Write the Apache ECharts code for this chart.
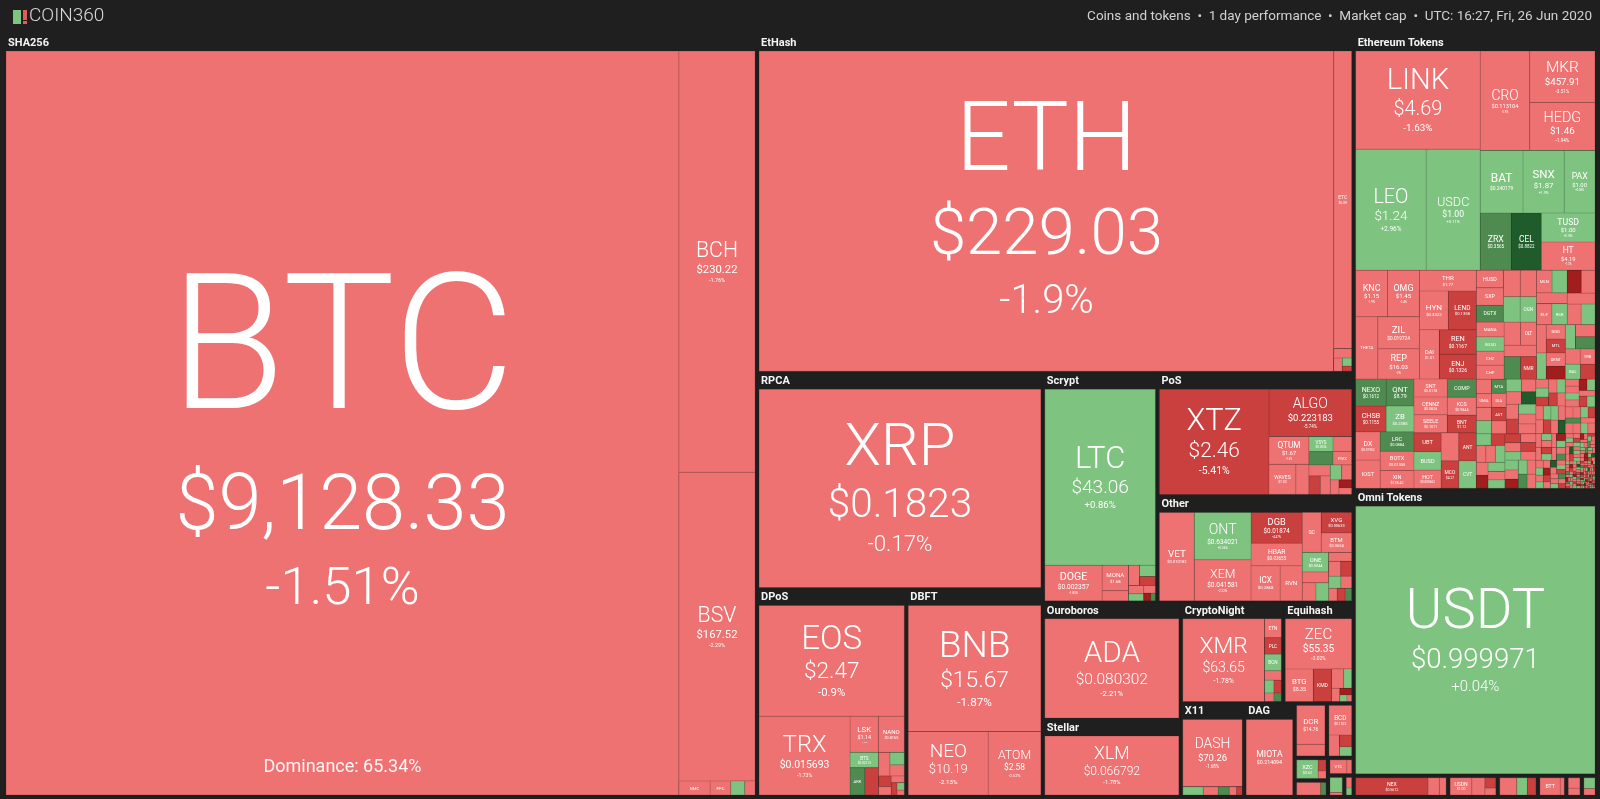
<!DOCTYPE html>
<html><head><meta charset="utf-8">
<script src="https://cdn.jsdelivr.net/npm/echarts@6/dist/echarts.min.js"></script>
<style>html,body{margin:0;padding:0;background:#1e1f1e;overflow:hidden}#c{width:1600px;height:799px}</style>
</head><body><div id="c"></div><script>
// ---------------- DATA (relative market-cap weights read from tile areas) ----------------
const headerText = 'Coins and tokens  \u2022  1 day performance  \u2022  Market cap  \u2022  UTC: 16:27, Fri, 26 Jun 2020';
const btcDominance = 'Dominance: 65.34%';

const sha256Names = ['BTC','BCH','BSV','NMC','PPC','ELA','SYS'];
const sha256Caps = [513.5,32.9,24.1,0.45,0.3,0.2,0.15];
const sha256Prices = ['$9,128.33','$230.22','$167.52','$0.4321','$0.2655','$1.26','$0.0494'];
const sha256Changes = [-1.51,-1.76,-2.29,-1.4,-2.3,1.1,-3.1];

const ethashNames = ['ETH','ETC','ETP','UBQ','EXP','ELLA'];
const ethashCaps = [194.9,5.65,0.18,0.12,0.08,0.05];
const ethashPrices = ['$229.03','$6.09','$0.2133','$0.1322','$0.0361','$0.0019'];
const ethashChanges = [-1.9,-1.5,-1.9,-3.0,2.2,-5.0];

const rpcaNames = ['XRP']; const rpcaCaps = [61.6]; const rpcaPrices = ['$0.1823']; const rpcaChanges = [-0.17];

const scryptNames = ['LTC','DOGE','MONA','EMC2','VIA','GAME','DGC','FTC','XMY','NLG','SXC','LCC'];
const scryptCaps = [21.8,2.28,0.75,0.3,0.25,0.2,0.16,0.14,0.12,0.1,0.06,0.04];
const scryptPrices = ['$43.06','$0.002357','$1.68','$0.0312','$0.1693','$0.0315','$0.0151','$0.0114','$0.0003','$0.0129','$0.0083','$0.0021'];
const scryptChanges = [0.86,-1.83,-1.4,-2.4,-1.2,3.5,-6.5,-1.8,1.0,-2.9,-9.0,6.0];

const posNames = ['XTZ','ALGO','QTUM','WAVES','NRG','VSYS','ARDR','STRAT','PIVX','NXT','NAV','PART','BLK','NULS','XDN','CLOAK','NXS'];
const posCaps = [13.73,4.66,1.32,0.96,0.47,0.43,0.38,0.33,0.30,0.28,0.25,0.22,0.20,0.18,0.15,0.12,0.10];
const posPrices = ['$2.46','$0.223183','$1.67','$1.03','$0.8712','$0.0336','$0.0501','$0.2489','$0.3853','$0.0143','$0.0844','$0.4771','$0.0412','$0.2218','$0.0001','$0.9811','$0.1962'];
const posChanges = [-5.41,-5.74,-1.6,-2.3,-1.1,1.2,4.6,-1.8,-2.2,-1.0,-6.0,-2.5,0.8,-3.0,-1.4,-9.0,-2.1];

const otherNames = ['VET','ONT','XEM','DGB','HBAR','ICX','RVN','SC','XVG','BTM','ONE','WAN','AION','GRIN','BEAM','NIM','FCT','ARRR','XHV','BTX','SERO','ZEL'];
const otherCaps = [3.78,3.28,2.85,1.93,1.41,1.25,0.95,0.93,0.76,0.73,0.63,0.35,0.30,0.28,0.25,0.22,0.20,0.18,0.16,0.13,0.12,0.10];
const otherPrices = ['$0.010183','$0.634021','$0.041581','$0.01874','$0.03655','$0.2868','$0.02041','$0.002377','$0.00633','$0.0654','$0.0044','$0.2115','$0.0797','$0.5233','$0.3412','$0.0018','$2.81','$0.5502','$0.7191','$0.2345','$0.0712','$0.0421'];
const otherChanges = [-2.1,0.56,-2.22,-4.47,-1.7,-2.5,-1.9,-1.8,-4.2,-2.0,1.9,-2.1,-1.2,2.3,-3.4,-1.5,-5.5,1.1,-2.6,-1.9,-7.1,4.2];

const dposNames = ['EOS','TRX','LSK','NANO','BTS','ARK','WAXP','STEEM','HIVE','GXC','SHIFT','RISE','COCOS','YOYOW','EOSDAC','NTY'];
const dposCaps = [18.0,8.04,1.15,1.05,0.49,0.45,0.42,0.30,0.20,0.18,0.15,0.12,0.10,0.08,0.06,0.04];
const dposPrices = ['$2.47','$0.015693','$1.14','$0.8165','$0.02213','$0.2095','$0.0408','$0.2195','$0.2201','$0.5192','$0.1094','$0.0105','$0.0007','$0.0112','$0.0012','$0.0003'];
const dposChanges = [-0.9,-1.73,-1.3,-1.6,1.8,5.2,-4.5,-2.0,3.1,-1.2,-6.0,-2.5,-1.6,-4.3,0.9,-2.2];

const dbftNames = ['BNB','NEO','ATOM']; const dbftCaps = [18.76,5.69,3.75];
const dbftPrices = ['$15.67','$10.19','$2.58']; const dbftChanges = [-1.87,-2.13,-2.62];

const ouroNames = ['ADA']; const ouroCaps = [16.1]; const ouroPrices = ['$0.080302']; const ouroChanges = [-2.21];
const stellarNames = ['XLM']; const stellarCaps = [10.6]; const stellarPrices = ['$0.066792']; const stellarChanges = [-1.78];

const cnNames = ['XMR','ETN','PLC','BCN','TRTL','LOKI','AEON','MSR','XUN'];
const cnCaps = [8.53,0.40,0.35,0.35,0.20,0.15,0.12,0.10,0.08];
const cnPrices = ['$63.65','$0.00365','$0.8811','$0.0002','$0.00002','$0.3871','$0.2512','$0.0133','$0.0009'];
const cnChanges = [-1.78,-1.5,-6.2,2.1,-2.5,3.0,-4.4,-1.2,5.5];

const equiNames = ['ZEC','BTG','KMD','ZEN','ZCL','BTCZ','ZER','VOT','BZE'];
const equiCaps = [4.28,1.17,0.76,0.30,0.20,0.14,0.10,0.06,0.04];
const equiPrices = ['$55.35','$8.35','$0.5481','$6.34','$0.0951','$0.0003','$0.0881','$0.0013','$0.0021'];
const equiChanges = [-2.02,-1.6,-4.6,-1.7,2.5,-3.0,-8.0,1.0,-2.0];

const x11Names = ['DASH','CRW','MUE','SIB','ZOC','ION'];
const x11Caps = [5.27,0.22,0.16,0.12,0.08,0.06];
const x11Prices = ['$70.26','$0.0342','$0.0051','$0.0712','$0.0009','$0.0195'];
const x11Changes = [-1.68,1.9,-2.1,4.0,-1.0,-6.0];

const dagNames = ['MIOTA']; const dagCaps = [4.7]; const dagPrices = ['$0.214094']; const dagChanges = [-3.3];

const blakeNames = ['DCR','LBC']; const blakeCaps = [1.35,0.40]; const blakePrices = ['$14.76','$0.0342']; const blakeChanges = [-1.9,-2.6];
const x13Names = ['BCD','XST','CURE','BAY']; const x13Caps = [0.85,0.28,0.18,0.14]; const x13Prices = ['$0.1322','$0.0233','$0.0121','$0.0012']; const x13Changes = [-1.3,-3.5,-6.0,3.0];
const mtpNames = ['XZC','TZC','XMCC']; const mtpCaps = [0.55,0.12,0.08]; const mtpPrices = ['$3.62','$0.0024','$0.0183']; const mtpChanges = [2.1,-7.0,-2.0];
const cuckooNames = ['AE','MWC']; const cuckooCaps = [0.45,0.10]; const cuckooPrices = ['$0.1217','$0.7233']; const cuckooChanges = [-2.2,5.0];
const lyraNames = ['VTC','GRLC']; const lyraCaps = [0.35,0.10]; const lyraPrices = ['$0.2255','$0.0123']; const lyraChanges = [-1.8,-3.0];
const groestlNames = ['GRS','SAPP']; const groestlCaps = [0.30,0.05]; const groestlPrices = ['$0.3094','$0.0004']; const groestlChanges = [2.4,-1.5];
const keccakNames = ['MAX','SMART']; const keccakCaps = [0.12,0.08]; const keccakPrices = ['$0.0033','$0.0011']; const keccakChanges = [-2.8,1.2];

// Ethereum tokens: large ones
const ethTopNames = ['LINK','LEO','USDC','CRO','MKR','HEDG','BAT','SNX','PAX','ZRX','CEL','TUSD','HT'];
const ethTopCaps = [12.9,9.0,6.9,5.2,3.55,3.3,2.82,2.71,2.03,1.88,1.81,1.64,1.6];
const ethTopPrices = ['$4.69','$1.24','$1.00','$0.113104','$457.91','$1.46','$0.240179','$1.87','$1.00','$0.3565','$0.8822','$1.00','$4.19'];
const ethTopChanges = [-1.63,2.96,0.11,-2.9,-3.51,-1.94,0.5,1.9,0.08,5.6,9.4,0.18,-1.2];
// Ethereum tokens: mid-size
const ethMidNames = ['KNC','OMG','THETA','ZIL','REP','THR','HYN','LEND','DAI','REN','ENJ','NEXO','CHSB','QNT','ZB','DX','IOST','LRC','BOTX','XIN','SNT','CENNZ','SEELE','KCS','BNT','HOT','MATIC','MCO','MANA','CHZ','OLT','WBTC','ELF','RSR'];
const ethMidCaps = [1.56,1.56,1.46,1.41,1.32,1.25,1.18,1.14,1.04,0.96,0.96,0.87,0.83,0.79,0.76,0.73,0.73,0.69,0.69,0.63,0.63,0.63,0.63,0.55,0.54,0.52,0.52,0.51,0.43,0.41,0.39,0.39,0.34,0.34];
const ethMidPrices = ['$1.15','$1.45','$0.2076','$0.019724','$16.03','$1.77','$0.3322','$0.1358','$1.01','$0.1167','$0.1326','$0.1612','$0.1155','$8.79','$0.2385','$0.01952','$0.004386','$0.0884','$0.01355','$178.42','$0.0178','$0.0826','$0.1071','$0.9844','$1.12','$0.000662','$0.0169','$4.27','$0.0393','$0.0144','$0.0124','$9,120.14','$0.0851','$0.0051'];
const ethMidChanges = [-1.9,-2.4,-3.1,-1.6,-2.0,-1.3,-2.8,-5.4,-0.6,-4.9,-5.3,4.8,-6.1,5.9,1.4,-2.2,-2.6,4.4,-1.8,-2.7,-2.1,-1.7,-3.2,-1.4,-5.0,-2.3,-2.0,-4.6,-2.5,-1.5,-1.2,-1.3,-2.2,1.2];
// Ethereum tokens: small mosaic
const ethSmallNames = ['COMP','UBT','BUSD','ANT','CVT','HUSD','SXP','DGTX','NPXS','CRPT','EURS','OGN','GUSD','CHP','SAND','BAND','NMR','MLN','STORJ','POWR','REQ','RLC','GNO',
 'LOOM','AMPL','PNK','DGD','MTL','BTU','DENT','FUN','WTC','TEL','NXM','OCEAN','TRB','BAL','KEEP','AKRO','UMA','MTA','DIA','BZRX','CND','AST','ADX','AGI','AMB','APPC','BLZ','BQX','BRD','CDT','CMT','CVC','DATA','DNT','EDO','FET','GTO','GVT','KEY','MFT',
 'MTH','OAX','OST','POE','QKC','QSP','RCN','RDN','SNGLS','SNM','STMX','SUB','TNB','TNT','VIB','WABI','WPR','AERGO','CELR','CTXC','DOCK','DUSK','FTM','IOTX','KAN','LBA','MITH','NKN','ORBS','PAY','PPT','QASH','SALT','STPT','TRAC','UTK','XYO','ZAP','ABT','BAX','BOX','DRGN','EKO','GEN','IHT','LAMB','LYM','MCB','MXC','PRO',
 'AUC','BCPT','BNK','CAN','COV','CPC','CRE','DAT','DTA','EDG','ELEC','EVN','FSN','GET','GNX','HMQ','HVN','ICN','INB','IQN','LALA','LOCI','MAN','MDT','MOC','MTN','NCASH','NGC','OCN','PLR','PRL','QUN','RHOC','SENT','SHIP','SNOV','SPHTX','SRN','SWFTC','TAU','TIME','TKN','TRST','UKG','UTNP','VRS','WINGS','XNK','ZPT','ZSC','RUFF','SWM','TCT','TTC','UQC','VEE','XMX','ARPA','COTI','HYDRO'];
const ethSmallCaps = [0.56,0.54,0.53,0.52,0.51,0.50,0.50,0.48,0.47,0.45,0.45,0.44,0.42,0.41,0.40,0.39,0.38,0.37,0.36,0.35,0.34,0.33,0.32,
 0.30,0.30,0.29,0.29,0.28,0.27,0.27,0.26,0.26,0.25,0.25,0.24,0.24,0.24,0.23,0.23,0.22,0.22,0.22,0.21,0.21,0.21,0.20,0.20,0.20,0.19,0.19,0.19,0.19,0.18,0.18,0.18,0.18,0.17,0.17,0.17,0.17,0.16,0.16,0.16,
 0.15,0.15,0.15,0.15,0.14,0.14,0.14,0.14,0.14,0.13,0.13,0.13,0.13,0.13,0.13,0.12,0.12,0.12,0.12,0.12,0.12,0.11,0.11,0.11,0.11,0.11,0.11,0.105,0.105,0.10,0.10,0.10,0.10,0.10,0.095,0.095,0.095,0.09,0.09,0.09,0.09,0.085,0.085,0.085,0.085,0.08,0.08,0.08,0.08,0.08,
 0.075,0.075,0.075,0.07,0.07,0.07,0.068,0.066,0.065,0.063,0.06,0.06,0.058,0.056,0.055,0.053,0.05,0.05,0.048,0.047,0.045,0.045,0.043,0.042,0.04,0.04,0.039,0.038,0.037,0.036,0.035,0.035,0.034,0.033,0.032,0.031,0.03,0.03,0.029,0.028,0.027,0.026,0.025,0.025,0.024,0.023,0.022,0.021,0.02,0.02,0.019,0.018,0.018,0.017,0.016,0.016,0.015,0.015,0.014,0.013];
const ethSmallChanges = [6.5,-5.2,0.1,-4.8,1.5,-0.2,-1.2,5.1,-2.0,-2.4,0.6,1.8,0.4,-1.5,-3.0,4.5,-6.0,-1.9,2.2,-2.6,-9.1,-1.1,-3.2,
 -1.2,2.1,-3.1,-0.8,-5.5,1.3,-2.2,-9.5,0.6,-1.7,4.8,-2.9,-1.1,1.9,-4.4,-0.5,-2.6,6.2,-1.4,-3.8,0.9,-6.8,-1.9,2.7,-0.7,-2.3,10.5,-1.6,-4.9,0.3,-2.8,-1.0,3.4,-7.2,-1.3,-0.4,1.1,-3.5,-8.6,2.4,
 -2.1,0.8,-4.6,-1.3,3.2,-0.9,-6.1,-2.5,1.6,-1.8,-10.2,0.4,-3.3,5.4,-1.1,-2.7,0.2,-4.1,-0.6,2.9,-7.5,-1.5,-2.0,1.2,-0.3,-5.8,3.9,-1.9,-2.4,8.7,-0.8,-3.6,1.7,-1.2,-9.1,0.5,-2.2,-4.3,2.3,-1.6,-0.5,6.4,-3.0,-1.4,0.9,-6.6,-2.8,1.4,-0.7,-3.9,
 1.2,-2.6,-0.4,-5.1,3.7,-1.8,-8.2,0.7,-2.9,-1.1,4.6,-3.4,-0.6,2.0,-11.3,-1.5,0.3,-4.7,-2.1,9.8,-0.9,-3.1,1.5,-6.3,-1.3,-2.5,0.6,5.2,-1.7,-7.9,-0.2,2.6,-3.7,-1.0,-4.2,1.0,-2.3,12.4,-0.8,-5.6,-1.9,0.4,-3.2,3.1,-9.7,-1.2,-0.5,1.8,-2.7,-6.9,0.1,-1.4,4.1,-3.8,-0.7,2.2,-2.0,-8.8,0.9,-1.6];
// Ethereum tokens: tiny mosaic
const ethTinyNames = ['ABL','ADB','ADH','AID','AIDOC','AIT','ALIS','AMLT','APIS','ART','ATN','ATS','AVT','AXPR','BBN','BCDT','BEE','BERRY','BET','BIX',
 'BKX','BLUE','BMC','BNTY','BOU','BPT','BSTN','BTO','CAG','CAPP','CAR','CAS','CBT','CCT','CDX','CFI','CHX','CLN','CPAY','CPT',
 'CRED','CTF','CXO','DAN','DAY','DCN','DGX','DOV','DRT','DXT','EBTC','ECOM','EDR','EGT','ELY','EMV','ENTRP','EQL','ERO','ESS',
 'EXRN','FLIXX','FLP','FLUZ','FND','FOTA','FXT','GBX','GEE','GLA','GMT','GRID','GSE','GUP','HAND','HAV','HBZ','HGT','HKN','HORSE',
 'HQX','HST','IND','IPL','IPSX','ITT','IXT','J8T','JNT','KICK','KIND','KNT','LA','LEDU','LEV','LIF','LIKE','LINA','LND','LOC',
 'LQD','MAS','MDS','MEDX','MESH','MGO','MRPH','MVL','MYST','NCT','NDX','NET','NIO','NPX','NTK','NUG','OIO','OPT','PAL','PCL'];
const ethTinyCaps = [0.016,0.016,0.016,0.015,0.015,0.015,0.015,0.014,0.014,0.014,0.014,0.013,0.013,0.013,0.013,0.013,0.012,0.012,0.012,0.012,
 0.012,0.012,0.011,0.011,0.011,0.011,0.011,0.011,0.011,0.010,0.010,0.010,0.010,0.010,0.010,0.010,0.010,0.0095,0.0095,0.0095,
 0.0095,0.0095,0.009,0.009,0.009,0.009,0.009,0.009,0.0085,0.0085,0.0085,0.0085,0.0085,0.008,0.008,0.008,0.008,0.008,0.008,0.008,
 0.0075,0.0075,0.0075,0.0075,0.0075,0.007,0.007,0.007,0.007,0.007,0.007,0.0065,0.0065,0.0065,0.0065,0.0065,0.006,0.006,0.006,0.006,
 0.006,0.006,0.006,0.0055,0.0055,0.0055,0.0055,0.0055,0.0055,0.005,0.005,0.005,0.005,0.005,0.005,0.005,0.005,0.0048,0.0048,0.0046,
 0.0046,0.0045,0.0045,0.0044,0.0043,0.0042,0.0042,0.0041,0.004,0.004,0.004,0.0039,0.0038,0.0038,0.0037,0.0036,0.0035,0.0035,0.0034,0.0033];
const ethTinyChanges = [-2.4,5.3,-0.8,-9.2,1.1,-3.6,-1.2,8.4,-5.1,-0.4,2.8,-2.2,-12.1,-1.5,4.2,-6.4,-0.9,0.7,-3.3,-1.8,
 10.6,-2.7,-7.3,1.9,-0.6,-4.5,-1.4,3.3,-8.9,-2.1,-0.3,6.1,-1.9,-5.7,0.5,-2.9,-10.4,1.4,-1.1,-3.9,
 4.9,-0.7,-6.6,-2.3,2.2,-1.6,-9.8,0.2,-4.1,-1.0,7.7,-2.6,-0.5,-5.3,1.6,-3.1,-11.5,-1.3,0.9,-2.0,
 -6.9,3.8,-0.2,-1.7,-8.1,1.3,-2.8,-4.4,9.3,-1.2,-0.6,-3.7,2.5,-7.6,-1.5,-0.1,5.6,-2.4,-9.0,0.8,
 -1.9,-4.8,1.7,-0.9,-12.8,-2.2,3.1,-6.0,-1.4,0.3,-3.5,8.8,-0.7,-5.2,-2.6,1.0,-10.1,-1.8,4.4,-0.4,
 -2.9,-7.0,0.6,-1.3,2.9,-4.0,-0.8,-8.5,6.7,-2.1,-1.0,-5.9,1.2,-3.2,-0.5,11.2,-2.5,-6.3,0.4,-1.6];

const omniNames = ['USDT']; const omniCaps = [69.2]; const omniPrices = ['$0.999971']; const omniChanges = [0.04];
const neoTokNames = ['NEX','SWTH','TKY']; const neoTokCaps = [1.6,0.25,0.15]; const neoTokPrices = ['$0.5612','$0.0093','$0.0011']; const neoTokChanges = [-5.3,-1.8,-2.4];
const wavesTokNames = ['USDN','WEST','WCT','SIGN']; const wavesTokCaps = [0.5,0.3,0.15,0.1]; const wavesTokPrices = ['$1.00','$0.0321','$0.0411','$0.0022']; const wavesTokChanges = [-0.3,-2.0,-4.4,-1.6];
const eosTokNames = ['EIDOS','DICE','PEOS']; const eosTokCaps = [0.4,0.25,0.2]; const eosTokPrices = ['$0.0013','$0.0121','$0.0004']; const eosTokChanges = [-1.2,2.2,-6.0];
const tronTokNames = ['BTT','JST']; const tronTokCaps = [0.5,0.1]; const tronTokPrices = ['$0.000321','$0.0151']; const tronTokChanges = [-2.1,-1.1];
const xlmTokNames = ['MOBI','SLT']; const xlmTokCaps = [0.2,0.13]; const xlmTokPrices = ['$0.0021','$0.0731']; const xlmTokChanges = [-1.8,-1.5];
const qtumTokNames = ['QBT','INK']; const qtumTokCaps = [0.2,0.12]; const qtumTokPrices = ['$0.0112','$0.0009']; const qtumTokChanges = [2.0,-3.0];

// --------------- tables built from the arrays ---------------
const coinGroupDefs = [
  {title:'SHA256', header:true, names:sha256Names, caps:sha256Caps, prices:sha256Prices, changes:sha256Changes},
  {title:'EtHash', header:true, names:ethashNames, caps:ethashCaps, prices:ethashPrices, changes:ethashChanges},
  {title:'RPCA', header:true, names:rpcaNames, caps:rpcaCaps, prices:rpcaPrices, changes:rpcaChanges},
  {title:'Scrypt', header:true, names:scryptNames, caps:scryptCaps, prices:scryptPrices, changes:scryptChanges},
  {title:'PoS', header:true, names:posNames, caps:posCaps, prices:posPrices, changes:posChanges},
  {title:'Other', header:true, names:otherNames, caps:otherCaps, prices:otherPrices, changes:otherChanges},
  {title:'DPoS', header:true, names:dposNames, caps:dposCaps, prices:dposPrices, changes:dposChanges},
  {title:'DBFT', header:true, names:dbftNames, caps:dbftCaps, prices:dbftPrices, changes:dbftChanges},
  {title:'Ouroboros', header:true, names:ouroNames, caps:ouroCaps, prices:ouroPrices, changes:ouroChanges},
  {title:'Stellar', header:true, names:stellarNames, caps:stellarCaps, prices:stellarPrices, changes:stellarChanges},
  {title:'CryptoNight', header:true, names:cnNames, caps:cnCaps, prices:cnPrices, changes:cnChanges},
  {title:'Equihash', header:true, names:equiNames, caps:equiCaps, prices:equiPrices, changes:equiChanges},
  {title:'X11', header:true, names:x11Names, caps:x11Caps, prices:x11Prices, changes:x11Changes},
  {title:'DAG', header:true, names:dagNames, caps:dagCaps, prices:dagPrices, changes:dagChanges},
  {title:'Blake256', header:false, names:blakeNames, caps:blakeCaps, prices:blakePrices, changes:blakeChanges},
  {title:'X13', header:false, names:x13Names, caps:x13Caps, prices:x13Prices, changes:x13Changes},
  {title:'MTP', header:false, names:mtpNames, caps:mtpCaps, prices:mtpPrices, changes:mtpChanges},
  {title:'Cuckoo', header:false, names:cuckooNames, caps:cuckooCaps, prices:cuckooPrices, changes:cuckooChanges},
  {title:'Lyra2REv3', header:false, names:lyraNames, caps:lyraCaps, prices:lyraPrices, changes:lyraChanges},
  {title:'Groestl', header:false, names:groestlNames, caps:groestlCaps, prices:groestlPrices, changes:groestlChanges},
  {title:'Keccak', header:false, names:keccakNames, caps:keccakCaps, prices:keccakPrices, changes:keccakChanges}
];
const tokenGroupDefs = [
  {title:'Ethereum Tokens', header:true,
   names: ethTopNames.concat(ethMidNames, ethSmallNames, ethTinyNames),
   caps: ethTopCaps.concat(ethMidCaps, ethSmallCaps, ethTinyCaps),
   prices: ethTopPrices.concat(ethMidPrices),
   changes: ethTopChanges.concat(ethMidChanges, ethSmallChanges, ethTinyChanges)},
  {title:'Omni Tokens', header:true, names:omniNames, caps:omniCaps, prices:omniPrices, changes:omniChanges},
  {title:'NEO Tokens', header:false, names:neoTokNames, caps:neoTokCaps, prices:neoTokPrices, changes:neoTokChanges},
  {title:'Waves Tokens', header:false, names:wavesTokNames, caps:wavesTokCaps, prices:wavesTokPrices, changes:wavesTokChanges},
  {title:'EOS Tokens', header:false, names:eosTokNames, caps:eosTokCaps, prices:eosTokPrices, changes:eosTokChanges},
  {title:'TRON Tokens', header:false, names:tronTokNames, caps:tronTokCaps, prices:tronTokPrices, changes:tronTokChanges},
  {title:'Stellar Tokens', header:false, names:xlmTokNames, caps:xlmTokCaps, prices:xlmTokPrices, changes:xlmTokChanges},
  {title:'Qtum Tokens', header:false, names:qtumTokNames, caps:qtumTokCaps, prices:qtumTokPrices, changes:qtumTokChanges}
];

// --------------- styling helpers ---------------
const BG = '#1e1f1e';
const FONT = "Roboto, 'Noto Sans', 'DejaVu Sans', sans-serif";
function fillFor(c){
  if (c >= 8) return '#1f5b2b';
  if (c >= 4) return '#4f8b50';
  if (c >= 0) return '#7ec37f';
  if (c > -4) return '#ee7272';
  if (c > -8) return '#c9403f';
  return '#a11e1f';
}
function shade(hex, k){
  const n = parseInt(hex.slice(1), 16);
  const r = Math.round(((n >> 16) & 255) * k), g = Math.round(((n >> 8) & 255) * k), b = Math.round((n & 255) * k);
  return 'rgb(' + r + ',' + g + ',' + b + ')';
}
function fmtChange(c){ return (c > 0 ? '+' : '') + c + '%'; }

function makeLabel(sym, price, change, w, h, footer){
  let S = Math.min(0.3 * h, 0.28 * w, 0.6 * w / (0.64 * sym.length));
  let P = price ? Math.min(0.68 * S, 0.58 * w / (0.56 * price.length)) : 0;
  let C = P * Math.min(0.68, 0.45 + S / 600);
  const tot = S * 1.05 + (P >= 3 ? P * 1.2 : 0) + (C >= 2.5 ? C * 1.3 : 0);
  if (tot > 0.88 * h) { const k = 0.88 * h / tot; S *= k; P *= k; C *= k; }
  if (S < 4) return {show:false};
  const mk = (fs, lh) => {
    const st = {fontSize: fs, lineHeight: lh, color:'#ffffff', fontFamily: FONT, fontWeight: fs >= 12 ? 300 : 400, align:'center'};
    if (fs >= 14) { st.textShadowColor = 'rgba(0,0,0,0.16)'; st.textShadowBlur = 0; st.textShadowOffsetX = Math.max(1, fs * 0.022); st.textShadowOffsetY = Math.max(1, fs * 0.022); }
    return st;
  };
  const rich = {sy: mk(S, S * 1.08)};
  const lines = ['{sy|' + sym + '}'];
  let blockH = S * 1.08;
  if (P >= 3) { rich.pr = mk(P, P * 1.22); lines.push('{pr|' + price + '}'); blockH += P * 1.22;
    if (C >= 2.5) { rich.ch = mk(C, C * 1.3); lines.push('{ch|' + fmtChange(change) + '}'); blockH += C * 1.3; } }
  const shift = footer ? 0.025 * h : 0;
  const topSp = Math.max(0, h / 2 + shift - blockH / 2);
  if (topSp >= 1) { rich.tp = {fontSize: 1, lineHeight: topSp}; lines.unshift('{tp| }'); }
  if (footer) {
    const dF = 18, dH = dF * 1.2, m = 17;
    const bot = Math.max(0, h - m - dH - topSp - blockH);
    rich.bt = {fontSize: 1, lineHeight: bot};
    rich.ft = {fontSize: dF, lineHeight: dH, color:'rgba(255,255,255,0.93)', fontFamily: FONT, align:'center'};
    lines.push('{bt| }', '{ft|' + footer + '}');
  }
  const txt = lines.join('\n');
  return {show:true, position:'inside', padding:0, formatter: () => txt, rich: rich};
}

const innerStyle = {borderWidth:0, gapWidth:0, borderColor:BG};
function nest(items){
  if (items.length === 1) return items[0];
  const sums = [0];
  items.forEach(it => sums.push(sums[sums.length - 1] + it.value));
  const total = sums[items.length], target = total / 2;
  let k = 1, hi = items.length - 1;
  while (k < hi) { const mid = (k + hi) >>> 1; if (sums[mid] < target) k = mid + 1; else hi = mid; }
  if ((target - sums[k - 1]) < (sums[k] - target) && 1 < k) k--;
  return {name:'', value: total, itemStyle: innerStyle, upperLabel:{show:false},
          children:[nest(items.slice(0, k)), nest(items.slice(k))]};
}
const byDesc = (a, b) => b.value - a.value;

function buildGroup(def, sizes){
  const leaves = def.names.map((n, i) => {
    const c = def.changes[i], fill = fillFor(c);
    const sz = sizes[n];
    return {name:n, key:n, value:def.caps[i],
      itemStyle:{color:fill, borderColor:shade(fill, 0.84), borderWidth:0.5},
      label: sz ? makeLabel(n, def.prices[i] || '', c, sz.w, sz.h, n === 'BTC' ? btcDominance : null) : {show:false}};
  }).sort(byDesc);
  const nested = nest(leaves);
  return {name:def.title, value: leaves.reduce((s, l) => s + l.value, 0),
    itemStyle:{borderWidth:2, gapWidth:0, borderColor:BG},
    upperLabel: def.header ? {show:true, height:16, color:'#f4f4f4', fontSize:11, fontWeight:'bold', fontFamily:FONT, padding:[0,0,0,2]} : {show:false},
    children: leaves.length > 1 ? nested.children : [nested]};
}

function buildData(sizes){
  const coins = nest(coinGroupDefs.map(d => buildGroup(d, sizes)).sort(byDesc));
  const tokens = nest(tokenGroupDefs.map(d => buildGroup(d, sizes)).sort(byDesc));
  return nest([coins, tokens]).children;
}

function buildOption(sizes){
  return {
    backgroundColor: BG,
    animation: false,
    graphic: [
      {type:'rect', left:13, top:10, shape:{width:8, height:14}, style:{fill:'#7ec37f'}},
      {type:'rect', left:23, top:10, shape:{width:4, height:10}, style:{fill:'#e35b5b'}},
      {type:'rect', left:23, top:21, shape:{width:4, height:3}, style:{fill:'#e35b5b'}},
      {type:'text', left:29, top:7, style:{text:'COIN360', fill:'#d9d9d9', font:"300 19px Roboto, 'Noto Sans', sans-serif"}},
      {type:'text', right:8, top:10, style:{text:headerText, fill:'#d0d2d0', font:"13.5px Roboto, 'Noto Sans', sans-serif"}}
    ],
    series: [{
      type:'treemap', left:4, top:35, right:3, bottom:2,
      roam:false, nodeClick:false, silent:true,
      breadcrumb:{show:false},
      sort: null, squareRatio: 0.0001,
      visibleMin: 0, childrenVisibleMin: null,
      leafDepth: null, drillDownIcon:'',
      itemStyle:{borderWidth:0, gapWidth:0, borderColor:BG},
      label:{show:false, padding:0},
      upperLabel:{show:false},
      data: buildData(sizes)
    }]
  };
}

function measure(chart){
  const map = {};
  try {
    const sm = chart.getModel().getSeriesByIndex(0);
    const data = sm.getData();
    data.tree.root.eachNode(function(node){
      if (node.children && node.children.length) return;
      const lay = node.getLayout();
      if (!lay) return;
      let key = node.name;
      try { const raw = data.getRawDataItem(node.dataIndex); if (raw && raw.key) key = raw.key; } catch (e) {}
      map[key] = {w: lay.width, h: lay.height};
    });
  } catch (e) { console.log('measure failed: ' + e); }
  return map;
}

const chart = echarts.init(document.getElementById('c'), null, {renderer:'canvas'});
chart.setOption(buildOption({}));
let sizes = measure(chart);
if (!Object.keys(sizes).length) {
  const all = coinGroupDefs.concat(tokenGroupDefs);
  let tot = 0; all.forEach(d => d.caps.forEach(v => tot += v));
  const k = 1593 * 762 * 0.93 / tot;
  all.forEach(d => d.names.forEach((n, i) => { const s = Math.sqrt(d.caps[i] * k); sizes[n] = {w:s, h:s}; }));
}
chart.setOption(buildOption(sizes), true);
</script></body></html>
